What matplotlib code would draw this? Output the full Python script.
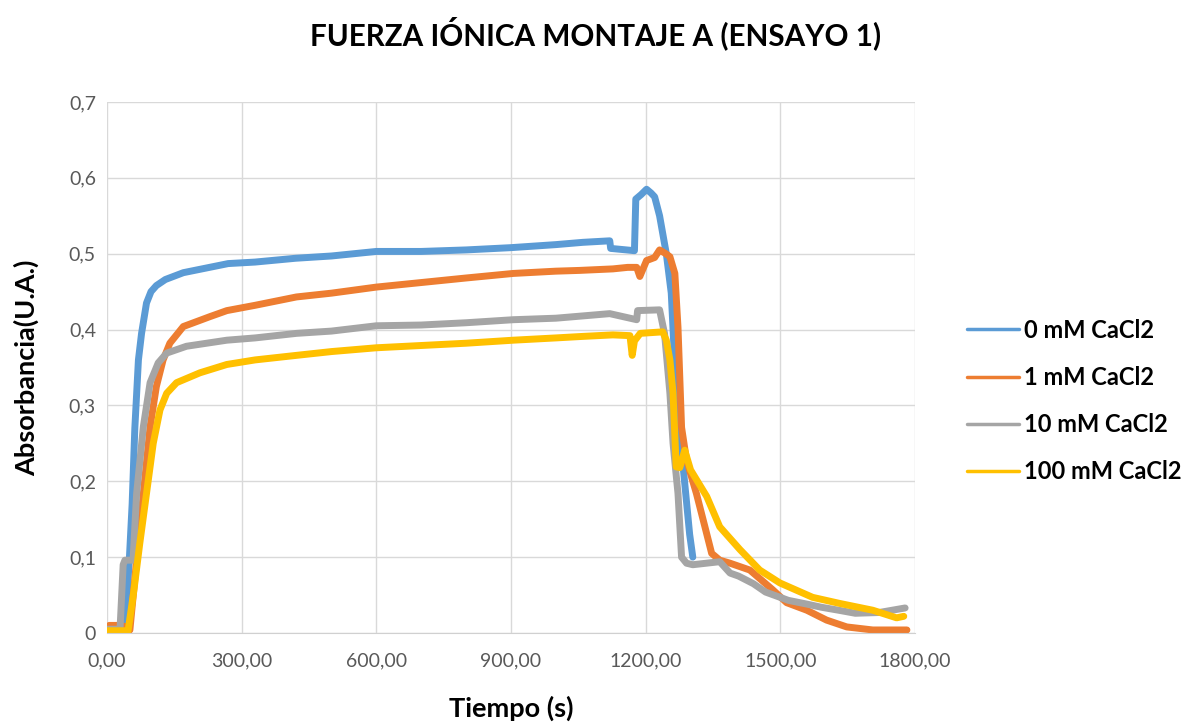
import matplotlib.pyplot as plt

# Data
t_0mM = [0, 40, 50, 56, 62, 70, 77, 88, 98, 110, 130, 170, 220, 270, 330, 420, 500,
         600, 700, 800, 900, 1000, 1060, 1120, 1122, 1175, 1178, 1190, 1202, 1212,
         1220, 1231, 1246, 1257, 1268, 1282, 1298, 1305]
abs_0mM = [0.004, 0.005, 0.1, 0.17, 0.27, 0.36, 0.395, 0.435, 0.45, 0.458, 0.466, 0.475,
           0.481, 0.487, 0.489, 0.494, 0.497, 0.503, 0.503, 0.505, 0.508, 0.512, 0.515,
           0.517, 0.507, 0.504, 0.572, 0.578, 0.585, 0.58, 0.575, 0.55, 0.5, 0.448,
           0.316, 0.228, 0.13, 0.1]

t_1mM = [0, 5, 25, 45, 51, 66, 81, 96, 110, 125, 140, 170, 229, 267, 330, 422, 500,
         600, 700, 800, 905, 1000, 1053, 1127, 1160, 1180, 1187, 1202, 1220, 1231,
         1245, 1254, 1265, 1272, 1280, 1291, 1313, 1332, 1347, 1365, 1388, 1432,
         1483, 1514, 1559, 1603, 1648, 1706, 1782]
abs_1mM = [0.003, 0.01, 0.01, 0.008, 0.004, 0.096, 0.184, 0.272, 0.325, 0.36, 0.382,
           0.404, 0.417, 0.425, 0.432, 0.443, 0.448, 0.456, 0.462, 0.468, 0.474, 0.477,
           0.478, 0.48, 0.482, 0.482, 0.47, 0.491, 0.495, 0.505, 0.5, 0.496, 0.474,
           0.403, 0.271, 0.228, 0.184, 0.14, 0.105, 0.096, 0.092, 0.083, 0.057, 0.04,
           0.03, 0.017, 0.008, 0.004, 0.004]

t_10mM = [0, 29, 36, 40, 58, 66, 81, 96, 114, 133, 177, 267, 330, 422, 500, 600, 700,
          800, 905, 1000, 1060, 1120, 1180, 1182, 1231, 1242, 1254, 1261, 1272, 1280,
          1291, 1305, 1335, 1365, 1388, 1407, 1440, 1467, 1518, 1560, 1591, 1630,
          1667, 1720, 1778]
abs_10mM = [0.005, 0.005, 0.09, 0.096, 0.096, 0.184, 0.272, 0.33, 0.356, 0.369, 0.378,
            0.386, 0.389, 0.395, 0.398, 0.405, 0.406, 0.409, 0.413, 0.415, 0.418, 0.421,
            0.413, 0.425, 0.426, 0.395, 0.316, 0.25, 0.184, 0.1, 0.092, 0.09, 0.092,
            0.094, 0.079, 0.075, 0.065, 0.054, 0.043, 0.038, 0.034, 0.03, 0.026, 0.027,
            0.033]

t_100mM = [0, 47, 59, 73, 88, 103, 118, 133, 155, 207, 267, 330, 422, 500, 600, 700,
           800, 905, 1000, 1060, 1127, 1165, 1170, 1175, 1188, 1238, 1246, 1254, 1261,
           1268, 1276, 1287, 1300, 1336, 1365, 1410, 1454, 1499, 1572, 1632, 1706,
           1759, 1775]
abs_100mM = [0.003, 0.003, 0.052, 0.118, 0.184, 0.25, 0.294, 0.316, 0.33, 0.343, 0.354,
             0.36, 0.366, 0.371, 0.376, 0.379, 0.382, 0.386, 0.389, 0.391, 0.393, 0.392,
             0.366, 0.385, 0.395, 0.397, 0.386, 0.36, 0.316, 0.219, 0.218, 0.241, 0.215,
             0.18, 0.14, 0.11, 0.083, 0.066, 0.047, 0.039, 0.03, 0.02, 0.022]

series = [
    ("0 mM CaCl2", t_0mM, abs_0mM, "#5B9BD5"),
    ("1 mM CaCl2", t_1mM, abs_1mM, "#ED7D31"),
    ("10 mM CaCl2", t_10mM, abs_10mM, "#A5A5A5"),
    ("100 mM CaCl2", t_100mM, abs_100mM, "#FFC000"),
]

x_ticks = [0, 300, 600, 900, 1200, 1500, 1800]
x_ticklabels = ["0,00", "300,00", "600,00", "900,00", "1200,00", "1500,00", "1800,00"]
y_ticks = [0, 0.1, 0.2, 0.3, 0.4, 0.5, 0.6, 0.7]
y_ticklabels = ["0", "0,1", "0,2", "0,3", "0,4", "0,5", "0,6", "0,7"]

plt.rcParams["font.family"] = ["Lato", "DejaVu Sans"]

fig = plt.figure(figsize=(11.91, 7.24), dpi=100)
ax = fig.add_axes([107 / 1191, 1 - 633 / 724, (915 - 107) / 1191, (633 - 102) / 724])

for label, t, a, color in series:
    ax.plot(t, a, color=color, lw=5, label=label,
            solid_capstyle="round", solid_joinstyle="round")

ax.set_xlim(0, 1800)
ax.set_ylim(0, 0.7)
ax.set_xticks(x_ticks)
ax.set_xticklabels(x_ticklabels)
ax.set_yticks(y_ticks)
ax.set_yticklabels(y_ticklabels)
ax.tick_params(length=0, labelsize=14, labelcolor="#595959")
ax.tick_params(axis="x", pad=14)
ax.tick_params(axis="y", pad=8)
ax.grid(True, color="#D9D9D9", lw=1)
ax.set_axisbelow(True)
for side in ["top", "right", "left"]:
    ax.spines[side].set_visible(False)
ax.spines["bottom"].set_color("#D0D0D0")

ax.set_xlabel("Tiempo (s)", fontsize=19.5, fontweight="bold", labelpad=19)
ax.set_ylabel("Absorbancia(U.A.)", fontsize=19.5, fontweight="bold", labelpad=21)
fig.text(0.5, 1 - 33 / 724, "FUERZA IÓNICA MONTAJE A (ENSAYO 1)", ha="center",
         va="center", fontsize=21.3, fontweight="bold")

leg = ax.legend(loc="center left", bbox_to_anchor=(967 / 1191, 1 - 401 / 724),
                bbox_transform=fig.transFigure, frameon=False, fontsize=17,
                handlelength=2.2, handletextpad=0.2, labelspacing=1.03,
                borderpad=0, borderaxespad=0)
for txt in leg.get_texts():
    txt.set_fontweight("bold")
for line in leg.get_lines():
    line.set_linewidth(2.5)

fig.savefig("out.png", dpi=100)
